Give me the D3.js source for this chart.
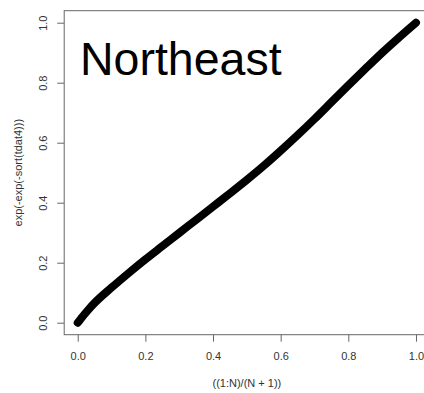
<!DOCTYPE html>
<html>
<head>
<meta charset="utf-8">
<script src="https://cdn.jsdelivr.net/npm/d3@7"></script>
<style>
  html, body { margin: 0; padding: 0; background: #fff; }
  svg { display: block; font-family: "Liberation Sans", Arial, sans-serif; }
</style>
</head>
<body>
<div id="chart-area"></div>
<script>
/***** Data *****/
const ppX = [0, 0.01, 0.02, 0.035, 0.05, 0.1, 0.15, 0.2, 0.25, 0.3, 0.35, 0.4, 0.45,
             0.5, 0.55, 0.6, 0.65, 0.7, 0.75, 0.8, 0.85, 0.9, 0.95, 1.0];
const ppY = [0, 0.014, 0.028, 0.048, 0.066, 0.117, 0.165, 0.211, 0.255, 0.299, 0.343, 0.387, 0.431,
             0.476, 0.523, 0.573, 0.625, 0.679, 0.735, 0.791, 0.846, 0.9, 0.951, 1.0];
const xTicks = [0, 0.2, 0.4, 0.6, 0.8, 1.0];
const yTicks = [0, 0.2, 0.4, 0.6, 0.8, 1.0];
const title = "Northeast";
const xLabel = "((1:N)/(N + 1))";
const yLabel = "exp(-exp(-sort(tdat4)))";

/***** Layout *****/
const W = 424, H = 393;
const plot = { left: 64.2, right: 429.5, top: 10.7, bottom: 334.7 };

const svg = d3.select("#chart-area").append("svg")
  .attr("width", W).attr("height", H);

// R pads the data range by 4% on each side
const xScale = d3.scaleLinear().domain([-0.04, 1.04]).range([plot.left, plot.right]);
const yScale = d3.scaleLinear().domain([-0.04, 1.04]).range([plot.bottom, plot.top]);

/***** Points (dense, so they read as a thick line) *****/
const pts = ppX.map((x, i) => ({ x, y: ppY[i] }));
const line = d3.line().x(d => xScale(d.x)).y(d => yScale(d.y)).curve(d3.curveMonotoneX);
svg.append("path").datum(pts)
  .attr("d", line)
  .attr("fill", "none").attr("stroke", "#000")
  .attr("stroke-width", 8)
  .attr("stroke-linecap", "round").attr("stroke-linejoin", "round");

/***** Box *****/
svg.append("rect")
  .attr("x", plot.left).attr("y", plot.top)
  .attr("width", plot.right - plot.left).attr("height", plot.bottom - plot.top)
  .attr("fill", "none").attr("stroke", "#666").attr("stroke-width", 1);

/***** Axes *****/
const fmt = d3.format(".1f");
const gx = svg.append("g")
  .attr("transform", `translate(0,${plot.bottom})`)
  .call(d3.axisBottom(xScale).tickValues(xTicks).tickSize(7).tickFormat(fmt));
gx.select(".domain").remove();
gx.selectAll(".tick line").attr("stroke", "#666");
gx.selectAll(".tick text")
  .attr("y", 21).attr("dy", "0.35em")
  .attr("font-size", 11).attr("fill", "#333")
  .attr("font-family", "Liberation Sans, Arial, sans-serif");

const gy = svg.append("g")
  .attr("transform", `translate(${plot.left},0)`)
  .call(d3.axisLeft(yScale).tickValues(yTicks).tickSize(7).tickFormat(fmt));
gy.select(".domain").remove();
gy.selectAll(".tick line").attr("stroke", "#666");
gy.selectAll(".tick text")
  .attr("transform", "rotate(-90)")
  .attr("x", 0).attr("y", -21).attr("dy", "0.35em")
  .attr("text-anchor", "middle")
  .attr("font-size", 11).attr("fill", "#333")
  .attr("font-family", "Liberation Sans, Arial, sans-serif");

/***** Labels *****/
svg.append("text")
  .attr("x", (plot.left + plot.right) / 2).attr("y", 383).attr("dy", "0.35em")
  .attr("text-anchor", "middle").attr("font-size", 11).attr("fill", "#333")
  .text(xLabel);

svg.append("text")
  .attr("transform", `translate(18,${(plot.top + plot.bottom) / 2}) rotate(-90)`)
  .attr("dy", "0.35em")
  .attr("text-anchor", "middle").attr("font-size", 11).attr("fill", "#333")
  .text(yLabel);

svg.append("text")
  .attr("x", 80).attr("y", 75)
  .attr("font-size", 46.5).attr("fill", "#000")
  .text(title);
</script>
</body>
</html>
